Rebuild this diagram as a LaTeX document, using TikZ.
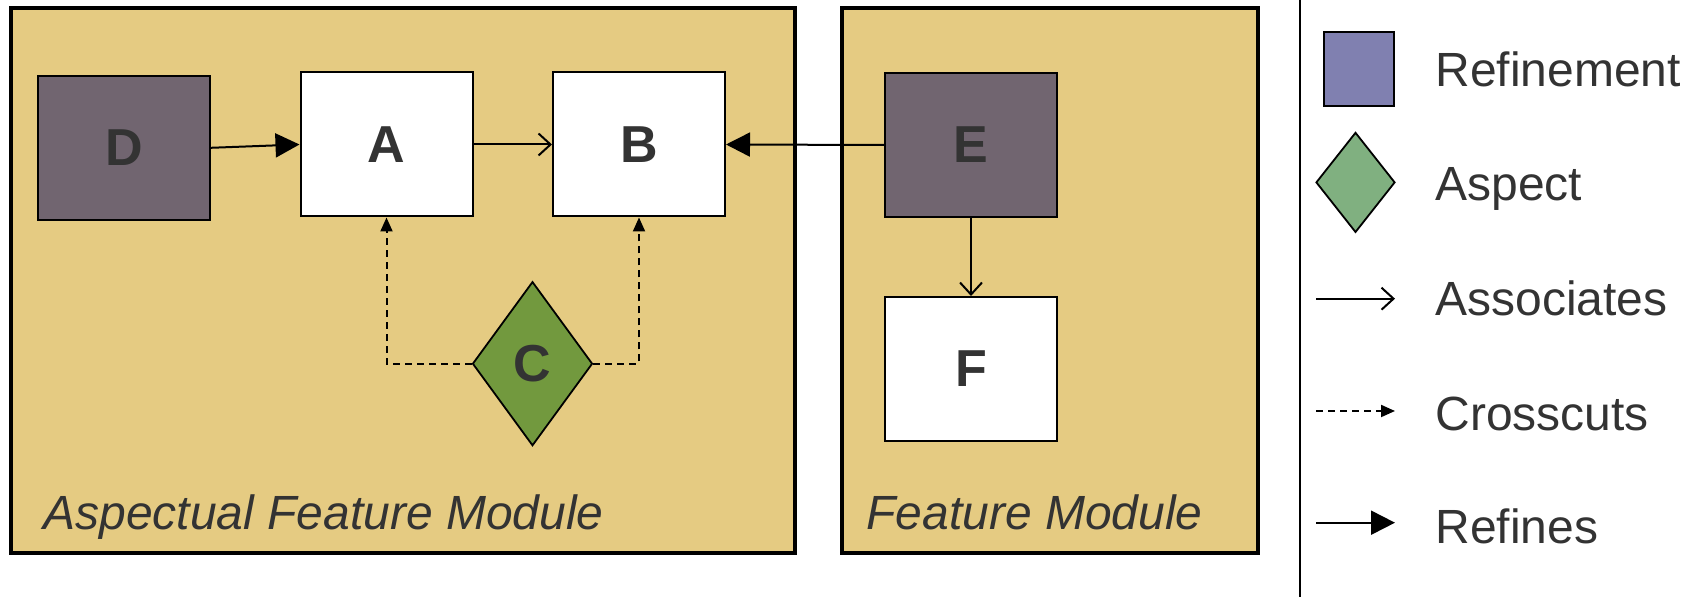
\documentclass[tikz,border=0pt]{standalone}
\usepackage{fontspec}
\setmainfont{Liberation Sans}
\usetikzlibrary{arrows.meta,shapes.geometric}

\definecolor{modfill}{RGB}{229,203,130}
\definecolor{reffill}{RGB}{113,101,112}
\definecolor{aspfill}{RGB}{114,153,62}
\definecolor{legref}{RGB}{128,128,176}
\definecolor{legasp}{RGB}{128,176,128}
\definecolor{txt}{RGB}{51,51,51}

\tikzset{
  module/.style={draw=black, line width=2.4pt, fill=modfill, rectangle,
    minimum width=#1, minimum height=272.5pt, inner sep=0pt},
  cls/.style={draw=black, line width=1pt, rectangle, inner sep=0pt,
    minimum width=86pt, minimum height=72pt, text=txt,
    font=\fontsize{26}{28}\selectfont\bfseries},
  refbox/.style={cls, fill=reffill},
  plainbox/.style={cls, fill=white},
  aspectbox/.style={draw=black, line width=0.9pt, diamond, inner sep=0pt,
    minimum width=60pt, minimum height=82pt, fill=aspfill, text=txt,
    font=\fontsize{26}{28}\selectfont\bfseries},
  modlabel/.style={anchor=base west, inner sep=0pt, text=txt,
    font=\fontsize{24}{26}\selectfont\itshape},
  leglabel/.style={anchor=base west, inner sep=0pt, text=txt,
    font=\fontsize{24}{26}\selectfont},
  associates/.style={line width=1pt, -{Straight Barb[length=6pt,width=11pt,line width=1pt]}},
  refines/.style={line width=1pt, -{Triangle[length=12pt,width=12pt]}},
  crosscuts/.style={line width=1pt, dash pattern=on 3.5pt off 2.5pt,
    -{Triangle[length=7pt,width=6pt]}},
}

\begin{document}
\begin{tikzpicture}[x=0.5pt, y=-0.5pt]
  \useasboundingbox (0,0) rectangle (1697,597);

  % modules
  \node[module=392pt] (afm) at (403,280.5) {};
  \node[module=208pt] (fm) at (1050,280.5) {};
  \node[modlabel] (afmlab) at (43,530) {Aspectual Feature Module};
  \node[modlabel] (fmlab) at (866,530) {Feature Module};

  % classes, refinements and the aspect
  \node[refbox] (D) at (124,147.8) {D};
  \node[plainbox] (A) at (386.5,144.5) {A};
  \node[plainbox] (B) at (639,144.5) {B};
  \node[refbox] (E) at (971,145) {E};
  \node[plainbox] (F) at (971,369) {F};
  \node[aspectbox] (C) at (532.5,363.7) {C};

  % relations
  \draw[refines] (D.east) -- (A.west);
  \draw[associates] (A.east) -- (B.west);
  \draw[refines] (E.west) -- (B.east);
  \draw[associates] (E.south) -- (F.north);
  \draw[crosscuts] (C.west) -| (A.south);
  \draw[crosscuts] (C.east) -| (B.south);

  % legend
  \coordinate (divtop) at (1300,0);
  \coordinate (divbot) at (1300,597);
  \draw[line width=1pt] (divtop) -- (divbot);

  \node[draw=black, line width=1pt, fill=legref, inner sep=0pt,
    minimum width=35pt, minimum height=37pt] (lref) at (1358.8,68.7) {};
  \node[draw=black, line width=0.9pt, fill=legasp, diamond, inner sep=0pt,
    minimum width=39.5pt, minimum height=50pt] (lasp) at (1355.5,182.4) {};

  \coordinate (las1) at (1316,298.7);
  \coordinate (las2) at (1395,298.7);
  \coordinate (lcc1) at (1316,411);
  \coordinate (lcc2) at (1395,411);
  \coordinate (lrf1) at (1316,522.7);
  \coordinate (lrf2) at (1395,522.7);
  \draw[associates] (las1) -- (las2);
  \draw[crosscuts] (lcc1) -- (lcc2);
  \draw[refines] (lrf1) -- (lrf2);

  \node[leglabel] (tref) at (1435,86.6) {Refinement};
  \node[leglabel] (tasp) at (1435,201) {Aspect};
  \node[leglabel] (tass) at (1435,316) {Associates};
  \node[leglabel] (tcc) at (1435,431) {Crosscuts};
  \node[leglabel] (trf) at (1435,544) {Refines};
\end{tikzpicture}
\end{document}
